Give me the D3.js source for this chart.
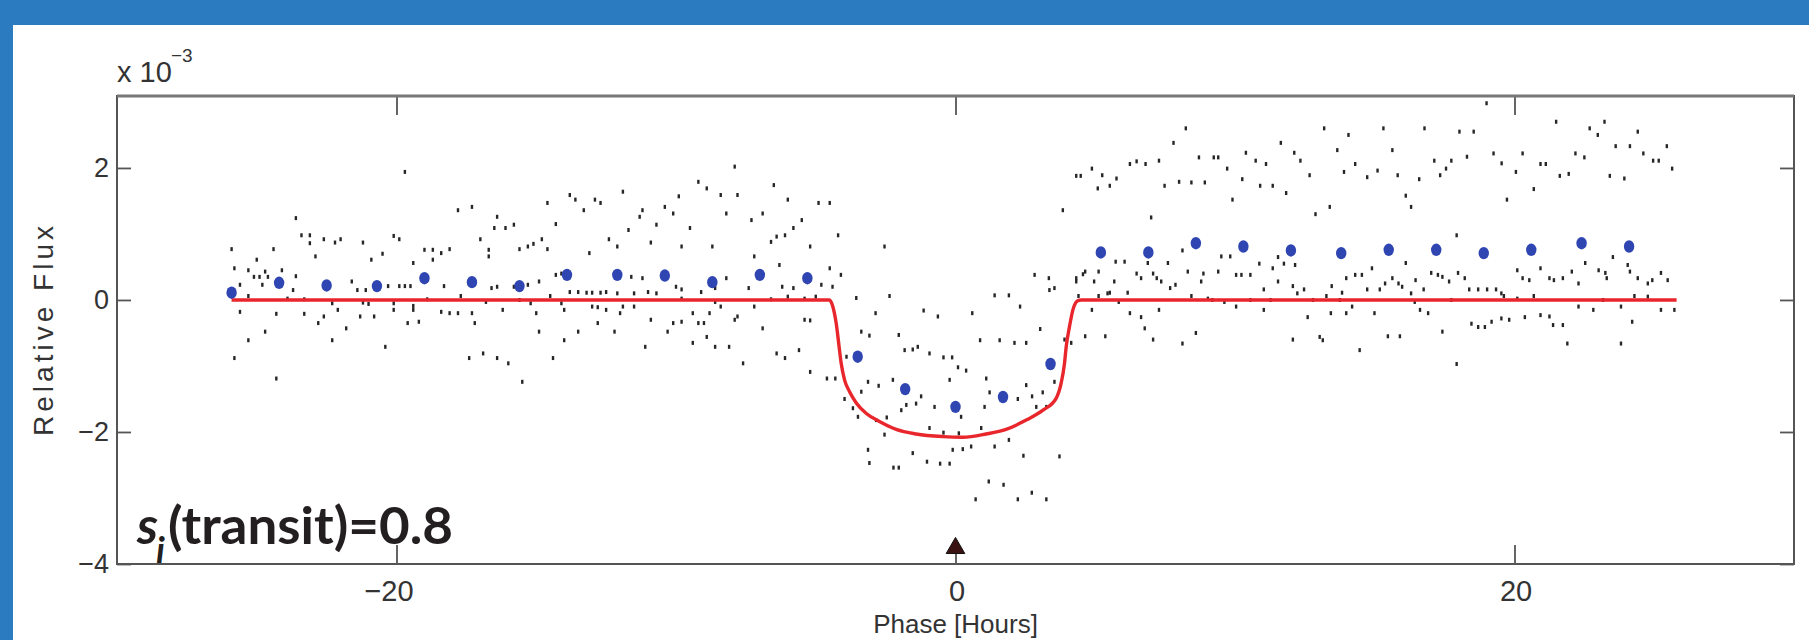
<!DOCTYPE html>
<html><head><meta charset="utf-8">
<script src="https://cdn.jsdelivr.net/npm/d3@7"></script>
<style>
html,body{margin:0;padding:0;background:#fff;overflow:hidden;}
svg{display:block;}
</style></head><body>
<svg id="chart" width="1809" height="640"></svg>
<script>
// ---- data (phase in hours, flux in units of 1e-3) ----
const xTicks = [-20, 0, 20];
const yTicks = [2, 0, -2, -4];
const xDomain = [-30, 30];
const yDomain = [-4, 3.09];

// binned averages (blue)
const binPhase = [-25.9,-24.2,-22.5,-20.7,-19.0,-17.3,-15.6,-13.9,-12.1,-10.4,-8.7,-7.0,-5.3,-3.5,-1.8,0.0,1.7,3.4,5.2,6.9,8.6,10.3,12.0,13.8,15.5,17.2,18.9,20.6,22.4,24.1];
const binFlux  = [0.11,0.26,0.22,0.21,0.33,0.27,0.21,0.38,0.38,0.37,0.27,0.38,0.33,-0.86,-1.35,-1.62,-1.47,-0.97,0.72,0.72,0.86,0.81,0.75,0.71,0.76,0.76,0.71,0.76,0.86,0.81];

// transit model (red)
const modelPhase = [-25.9,-4.51,-4.39,-4.27,-4.15,-4.09,-3.97,-3.79,-3.55,-3.19,-2.72,-2.12,-1.41,-0.45,0.26,1.1,1.81,2.53,3.13,3.6,3.78,3.9,3.96,4.08,4.2,4.38,4.5,25.8];
const modelFlux  = [0,0,-0.10,-0.35,-0.76,-0.96,-1.21,-1.39,-1.56,-1.72,-1.84,-1.96,-2.03,-2.07,-2.08,-2.03,-1.96,-1.82,-1.67,-1.49,-1.26,-0.96,-0.71,-0.40,-0.15,-0.01,0,0];

// transit-centre marker
const markerPhase = [0];
const markerFlux = [-3.76];

// individual measurements [phase, flux]
const rawPoints = [
[-19.7,1.94],[-7.9,2.02],[-9.2,1.79],[-8.9,1.69],[-6.5,1.74],[-8.4,1.59],[-7.8,1.59],[-9.9,1.57],[-6.0,1.52],[-4.9,1.47],
[-4.5,1.47],[-11.9,1.64],[-13.8,1.59],[-13.6,1.52],[-12.9,1.52],[-12.7,1.47],[-14.6,1.47],[-13.3,1.36],[-17.8,1.36],[-17.3,1.41],
[-23.6,1.24],[-16.4,1.26],[-16.5,1.09],[-16.1,1.09],[-15.8,1.14],[-14.3,1.15],[-11.3,1.26],[-11.2,1.36],[-10.4,1.41],[-10.1,1.31],
[-10.7,1.14],[-11.7,1.06],[-9.5,1.09],[-8.2,1.31],[-7.3,1.21],[-6.9,1.31],[-5.5,1.21],[-5.8,1.09],[-4.2,0.98],[-6.1,0.98],
[-6.4,0.96],[-6.6,0.88],[-23.4,0.98],[-23.1,0.98],[-23.1,0.86],[-22.6,0.92],[-22.2,0.87],[-22.0,0.92],[-21.2,0.87],[-20.1,0.97],
[-19.9,0.92],[-17.0,0.92],[-15.6,0.77],[-15.3,0.81],[-15.1,0.85],[-14.8,0.92],[-14.6,0.77],[-12.4,0.92],[-12.1,0.81],[-10.9,0.87],
[-9.8,0.81],[-8.7,0.81],[-5.2,0.81],[-25.9,0.77],[-24.4,0.77],[-20.5,0.70],[-20.9,0.61],[-22.9,0.66],[-19.0,0.76],[-18.7,0.76],
[-18.4,0.71],[-18.1,0.77],[-16.7,0.76],[-16.7,0.66],[-13.1,0.71],[-7.2,0.66],[-6.3,0.53],[-4.5,0.48],[-25.0,0.61],[-25.8,0.48],
[-25.3,0.45],[-25.1,0.35],[-24.9,0.35],[-24.7,0.43],[-24.6,0.35],[-24.1,0.45],[-23.6,0.36],[-24.8,0.23],[-25.6,0.23],[-23.7,0.15],
[-22.4,0.23],[-21.6,0.28],[-21.4,0.15],[-21.1,0.15],[-20.3,0.21],[-19.9,0.21],[-19.7,0.21],[-19.5,0.21],[-19.4,0.56],[-18.7,0.61],
[-18.3,0.21],[-16.6,0.18],[-16.4,0.20],[-15.8,0.20],[-15.3,0.23],[-14.9,0.28],[-14.3,0.38],[-14.1,0.40],[-11.6,0.35],[-11.2,0.33],
[-10.0,0.20],[-9.8,0.16],[-9.1,0.12],[-8.6,0.18],[-8.2,0.33],[-7.4,0.18],[-6.2,0.20],[-5.8,0.18],[-4.4,0.20],[-4.1,0.38],
[-4.8,0.23],[-12.5,0.12],[-12.1,0.10],[-11.5,0.10],[-11.0,0.12],[-10.7,0.10],[-13.8,0.12],[-13.5,0.12],[-13.2,0.11],[-13.0,0.11],
[-12.7,0.11],[-25.3,0.06],[-23.9,0.02],[-23.3,0.01],[-22.3,-0.05],[-21.2,-0.04],[-21.0,-0.06],[-20.1,-0.05],[-19.4,-0.09],[-18.9,0.01],
[-17.7,0.06],[-16.8,-0.03],[-15.6,0.0],[-15.2,-0.05],[-14.5,0.06],[-14.1,-0.05],[-12.8,-0.11],[-11.9,-0.10],[-11.5,-0.10],[-9.8,0.02],
[-8.6,-0.03],[-8.4,-0.10],[-7.2,-0.10],[-6.6,0.01],[-6.0,0.05],[-5.4,0.02],[-5.0,0.05],[-25.6,-0.18],[-24.3,-0.21],[-23.3,-0.21],
[-22.1,-0.15],[-21.3,-0.25],[-20.8,-0.25],[-22.6,-0.25],[-20.1,-0.15],[-19.4,-0.15],[-18.4,-0.18],[-18.1,-0.20],[-17.8,-0.20],[-17.3,-0.20],
[-16.2,-0.15],[-15.0,-0.20],[-14.0,-0.15],[-13.0,-0.10],[-12.5,-0.15],[-12.0,-0.20],[-10.9,-0.30],[-10.1,-0.35],[-9.8,-0.33],[-9.4,-0.20],
[-9.2,-0.35],[-9.0,-0.35],[-8.8,-0.20],[-7.9,-0.30],[-7.8,-0.25],[-5.4,-0.30],[-5.2,-0.31],[-22.8,-0.35],[-21.8,-0.43],[-19.6,-0.35],
[-19.2,-0.33],[-17.2,-0.35],[-14.9,-0.48],[-13.5,-0.48],[-12.8,-0.35],[-12.2,-0.48],[-10.3,-0.48],[-6.9,-0.43],[-24.7,-0.48],[-25.3,-0.61],
[-22.3,-0.61],[-14.0,-0.61],[-11.1,-0.71],[-9.4,-0.65],[-8.9,-0.56],[-8.6,-0.71],[-8.1,-0.71],[-20.4,-0.71],[-25.8,-0.88],[-17.4,-0.88],
[-16.9,-0.81],[-16.4,-0.88],[-16.0,-0.96],[-14.4,-0.88],[-6.4,-0.81],[-6.1,-0.88],[-5.6,-0.76],[-7.6,-0.96],[-3.9,-0.86],[-24.3,-1.19],
[-15.5,-1.24],[-5.2,-1.09],[-4.6,-1.19],[-4.3,-1.19],
[-2.54,0.81],[-2.36,0.06],[-2.86,-0.20],[-3.37,-0.48],[-3.08,-0.54],[-2.03,-0.53],[-1.14,-0.16],[-0.63,-0.25],[0.60,-0.20],[1.40,0.07],
[1.91,0.07],[2.31,-0.10],[0.88,-0.61],[1.58,-0.61],[2.11,-0.65],[2.53,-0.65],[3.03,-0.44],[2.83,0.38],[3.34,0.33],[3.54,0.18],
[-1.82,-0.76],[-1.53,-0.75],[-1.35,-0.71],[-0.93,-0.81],[-0.43,-0.87],[-0.12,-0.87],[0.09,-1.02],[0.38,-1.07],[1.10,-1.19],[-0.21,-1.21],
[-3.13,-1.24],[-2.75,-1.30],[-2.24,-1.21],[-3.37,-1.39],[-3.97,-1.50],[-3.67,-1.64],[-3.49,-1.77],[-2.84,-1.82],[-2.46,-1.78],[-2.54,-2.04],
[-1.76,-1.59],[-1.41,-1.57],[-1.23,-1.46],[-1.94,-1.67],[-0.75,-1.62],[-0.93,-1.94],[-0.43,-2.01],[0.12,-2.02],[0.20,-1.77],[0.92,-1.94],
[1.04,-1.62],[1.22,-1.40],[2.23,-1.50],[2.53,-1.29],[2.74,-1.46],[3.12,-1.40],[2.89,-1.62],[3.25,-1.62],[3.54,-1.24],[1.40,-2.22],
[1.91,-2.12],[-0.10,-2.27],[0.26,-2.26],[0.56,-2.22],[-1.53,-2.32],[-1.02,-2.45],[-0.55,-2.48],[-0.21,-2.48],[-2.22,-2.54],[-2.03,-2.54],
[-3.13,-2.27],[-3.08,-2.47],[2.43,-2.36],[3.72,-2.37],[1.19,-2.75],[1.72,-2.80],[0.72,-3.02],[2.23,-3.02],[2.73,-2.92],[3.25,-3.02],
[-3.55,0.03],[3.90,-0.60],[4.14,-0.65],[4.32,0.28],[4.40,0.06],
[19.0,2.98],[21.49,2.70],[22.69,2.60],[23.22,2.70],[22.98,2.50],[24.41,2.55],[23.62,2.33],[24.13,2.33],[25.45,2.33],[24.61,2.22],
[24.96,2.11],[25.16,2.11],[25.64,1.99],[22.18,2.22],[22.5,2.16],[23.41,1.88],[23.93,1.84],[21.62,1.88],[21.94,1.91],[20.93,2.06],
[21.12,2.06],[20.29,2.22],[20.05,1.94],[20.69,1.68],[19.73,1.52],[19.25,2.22],[19.54,2.07],[18.3,2.17],[18.03,2.55],[18.54,2.55],
[17.13,2.11],[17.34,1.89],[17.55,1.99],[17.74,2.11],[16.78,2.60],[16.59,1.83],[16.11,1.58],[16.3,1.41],[15.82,1.89],[15.31,2.60],
[15.63,2.27],[15.1,1.96],[14.73,1.86],[14.3,2.06],[13.9,1.94],[13.66,2.27],[14.06,2.50],[13.19,2.60],[12.67,1.89],[12.88,1.30],
[13.39,1.41],[12.12,2.23],[12.34,2.11],[11.64,2.38],[11.83,1.62],[10.9,1.73],[11.35,1.73],[10.39,2.23],[10.74,2.11],[11.11,2.06],
[10.26,1.83],[9.91,1.52],[9.72,1.99],[9.24,2.16],[9.4,2.16],[8.71,2.16],[8.92,1.78],[8.44,1.78],[8.0,1.79],[7.48,1.73],
[7.28,2.11],[6.8,2.06],[6.48,2.10],[6.24,2.06],[7.8,2.38],[8.24,2.60],[7.0,1.25],[5.76,1.84],[5.52,1.73],[5.09,1.69],
[5.25,1.89],[4.88,1.99],[4.32,1.88],[4.48,1.88],[3.84,1.36],[3.36,0.15],[4.32,0.33],[4.56,0.39],[4.64,0.43],[4.96,0.28],
[5.12,0.43],[5.73,0.58],[6.05,0.58],[5.68,0.28],[5.52,0.11],[5.84,-0.03],[6.16,0.11],[6.48,0.40],[6.64,0.33],[7.07,0.40],
[7.2,0.33],[6.88,0.56],[7.36,0.28],[7.68,0.18],[7.87,0.23],[7.6,0.56],[8.12,0.75],[8.31,0.43],[8.87,0.40],[8.79,0.28],
[9.4,0.43],[9.51,0.66],[9.83,0.66],[10.04,0.38],[10.23,0.38],[10.55,0.38],[10.87,0.55],[11.35,0.48],[11.54,0.65],[11.75,0.55],
[11.03,0.16],[11.54,0.28],[12.07,0.21],[12.47,0.16],[12.15,0.53],[13.46,0.21],[13.83,0.11],[13.98,0.33],[14.3,0.38],[14.54,0.38],
[14.9,0.48],[14.73,0.16],[15.18,0.16],[15.37,0.25],[15.63,0.33],[15.85,0.25],[15.98,0.20],[16.11,0.56],[16.46,0.30],[16.75,0.16],
[17.02,0.41],[17.26,0.38],[17.42,0.35],[17.66,0.28],[17.98,0.41],[18.22,0.33],[17.93,0.98],[18.38,0.16],[18.7,0.16],[19.02,0.16],
[19.34,0.16],[19.53,0.10],[20.1,0.45],[20.29,0.33],[20.53,0.30],[20.93,0.48],[21.25,0.33],[21.41,0.30],[21.73,0.33],[22.05,0.43],
[22.29,0.25],[22.53,0.56],[23.01,0.45],[23.3,0.33],[23.25,0.41],[23.52,0.65],[24.05,0.53],[24.13,0.43],[24.41,0.33],[24.77,0.25],
[24.93,0.30],[25.24,0.41],[25.48,0.30],[5.12,0.06],[5.44,0.10],[4.88,-0.15],[6.24,-0.20],[6.64,-0.26],[7.28,-0.15],[8.44,0.06],
[9.03,0.02],[9.19,0.0],[9.62,-0.03],[10.04,-0.10],[10.55,0.0],[11.03,-0.15],[11.27,0.0],[12.23,0.10],[12.79,0.0],[13.27,0.06],
[13.75,0.0],[13.43,-0.20],[13.98,-0.20],[14.19,-0.10],[14.99,-0.20],[16.3,0.10],[16.43,-0.03],[16.62,-0.15],[16.91,-0.20],[17.74,0.0],
[19.62,0.06],[20.1,0.02],[20.69,0.06],[22.29,-0.10],[22.82,-0.15],[23.17,0.0],[23.81,-0.10],[24.29,0.06],[24.77,0.05],[25.24,-0.15],
[25.72,-0.15],[4.64,-0.55],[5.36,-0.55],[6.77,-0.43],[7.07,-0.60],[8.12,-0.66],[8.6,-0.50],[12.6,-0.26],[12.07,-0.60],[13.03,-0.56],
[13.14,-0.61],[14.46,-0.76],[15.47,-0.55],[15.9,-0.55],[17.42,-0.48],[17.93,-0.97],[18.46,-0.36],[18.7,-0.41],[18.94,-0.41],[19.18,-0.33],
[19.53,-0.28],[19.81,-0.30],[20.37,-0.26],[20.93,-0.23],[21.25,-0.25],[21.38,-0.38],[21.73,-0.38],[21.89,-0.66],[23.81,-0.66],[24.21,-0.33]
];

// ---- layout ----
const W = 1809, H = 640;
const plot = {left: 117, right: 1794, top: 96, bottom: 564};
const tickFont = "'Liberation Sans', Arial, Helvetica, sans-serif";

const svg = d3.select('#chart');
svg.append('rect').attr('x',0).attr('y',0).attr('width',W).attr('height',H).attr('fill','#ffffff');
svg.append('rect').attr('x',0).attr('y',0).attr('width',W).attr('height',25).attr('fill','#2a7bc0');
svg.append('rect').attr('x',0).attr('y',0).attr('width',13).attr('height',H).attr('fill','#2a7bc0');

const x = d3.scaleLinear().domain(xDomain).range([plot.left, plot.right]);
const y = d3.scaleLinear().domain(yDomain).range([plot.bottom, plot.top]);

svg.append('defs').append('clipPath').attr('id','clip')
  .append('rect').attr('x',plot.left).attr('y',plot.top)
  .attr('width',plot.right-plot.left).attr('height',plot.bottom-plot.top);

const g = svg.append('g').attr('clip-path','url(#clip)');

// raw points
g.append('g').selectAll('rect').data(rawPoints).join('rect')
  .attr('x', d => x(d[0]) - 1.2)
  .attr('y', d => y(d[1]) - 2)
  .attr('width', 2.4).attr('height', 4)
  .attr('fill', '#262626');

// model
const line = d3.line().x((d,i) => x(modelPhase[i])).y((d,i) => y(modelFlux[i])).curve(d3.curveMonotoneX);
g.append('path').datum(modelFlux).attr('d', line)
  .attr('fill','none').attr('stroke','#e8262c').attr('stroke-width',3.4).attr('stroke-linejoin','round');

// bins
g.append('g').selectAll('ellipse').data(binPhase).join('ellipse')
  .attr('cx', (d) => x(d)).attr('cy', (d,i) => y(binFlux[i]))
  .attr('rx', 5.2).attr('ry', 6.2).attr('fill','#2f45b2');

// axes
function styleAxis(sel){
  sel.select('.domain').remove();
  sel.selectAll('.tick line').attr('stroke','#555').attr('stroke-width',1.8);
  sel.selectAll('.tick text').attr('fill','#333').attr('font-family', tickFont);
}
const gxB = svg.append('g').attr('transform',`translate(0,${plot.bottom})`)
  .call(d3.axisBottom(x).tickValues(xTicks).tickSizeInner(-19).tickSizeOuter(0).tickPadding(16));
styleAxis(gxB);
gxB.selectAll('.tick text').attr('font-size',29).attr('dx', d => d < 0 ? -8 : 1);
const gxT = svg.append('g').attr('transform',`translate(0,${plot.top})`)
  .call(d3.axisTop(x).tickValues(xTicks).tickSizeInner(-19).tickSizeOuter(0).tickFormat(''));
styleAxis(gxT);
const gyL = svg.append('g').attr('transform',`translate(${plot.left},0)`)
  .call(d3.axisLeft(y).tickValues(yTicks).tickSizeInner(-14).tickSizeOuter(0).tickPadding(8));
styleAxis(gyL); gyL.selectAll('.tick text').attr('font-size',27);
const gyR = svg.append('g').attr('transform',`translate(${plot.right},0)`)
  .call(d3.axisRight(y).tickValues(yTicks).tickSizeInner(-14).tickSizeOuter(0).tickFormat(''));
styleAxis(gyR);

// frame
svg.append('rect').attr('x',plot.left).attr('y',plot.top)
  .attr('width',plot.right-plot.left).attr('height',plot.bottom-plot.top)
  .attr('fill','none').attr('stroke','#555').attr('stroke-width',2);
svg.append('line').attr('x1',plot.left).attr('x2',plot.right).attr('y1',plot.top).attr('y2',plot.top)
  .attr('stroke','#777').attr('stroke-width',3);

// marker
svg.append('g').selectAll('path').data(markerPhase).join('path')
  .attr('d', d3.symbol(d3.symbolTriangle, 150))
  .attr('transform', (d,i) => `translate(${x(d)},${y(markerFlux[i])})`)
  .attr('fill','#3a1212').attr('stroke','#111').attr('stroke-width',1);

// labels
svg.append('text').attr('x',plot.left).attr('y',82).attr('font-family',tickFont).attr('font-size',29).attr('fill','#333').text('x 10');
svg.append('text').attr('x',171).attr('y',62).attr('font-family',tickFont).attr('font-size',19).attr('fill','#333').text('\u22123');
svg.append('text').attr('transform','translate(53,331) rotate(-90)').attr('text-anchor','middle')
  .attr('font-family',tickFont).attr('font-size',28).attr('fill','#333')
  .attr('textLength',210).attr('lengthAdjust','spacing').text('Relative Flux');
svg.append('text').attr('x',(plot.left+plot.right)/2).attr('y',633).attr('text-anchor','middle')
  .attr('font-family',tickFont).attr('font-size',26).attr('fill','#333').text('Phase [Hours]');

// annotation s_i(transit)=0.8
const annFont = "Lato, 'Open Sans', 'Noto Sans', sans-serif";
svg.append('text').attr('x',137).attr('y',544).attr('font-family',annFont).attr('font-weight',700)
  .attr('font-style','italic').attr('font-size',52).attr('fill','#231f20').text('s');
svg.append('text').attr('x',156).attr('y',563).attr('font-family',annFont).attr('font-weight',700)
  .attr('font-style','italic').attr('font-size',36).attr('fill','#231f20').text('i');
svg.append('text').attr('x',168).attr('y',544).attr('font-family',annFont).attr('font-weight',700)
  .attr('font-size',52).attr('fill','#231f20').attr('textLength',285).attr('lengthAdjust','spacingAndGlyphs')
  .text('(transit)=0.8');
</script>
</body></html>
